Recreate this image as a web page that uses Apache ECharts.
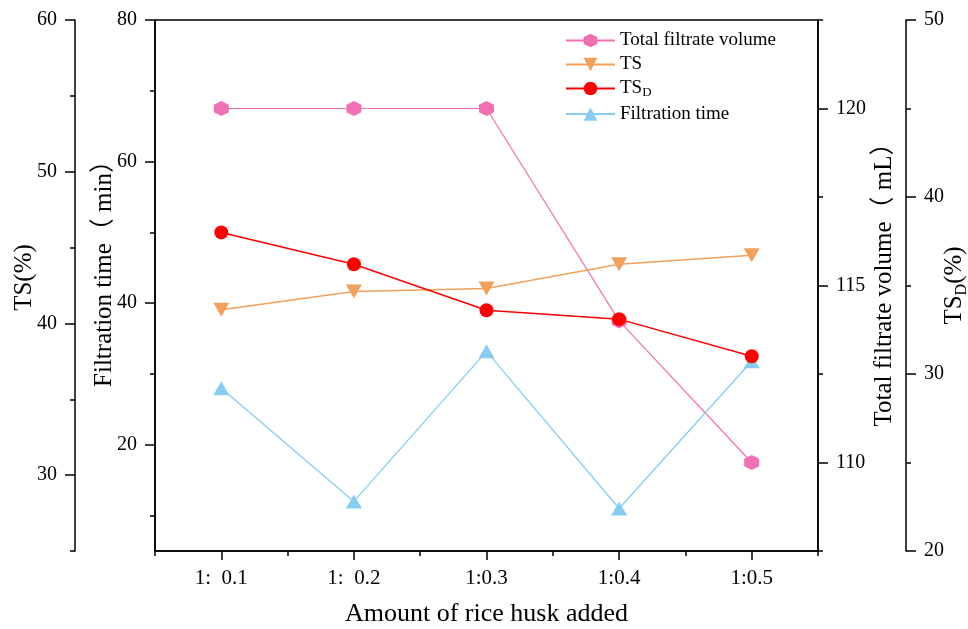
<!DOCTYPE html>
<html><head><meta charset="utf-8">
<script src="https://cdn.jsdelivr.net/npm/echarts@6/dist/echarts.min.js"></script>
<style>html,body{margin:0;padding:0;background:#fff}#c{width:968px;height:629px}</style>
</head><body><div id="c"></div>
<script>
const categories = ['1:  0.1', '1:  0.2', '1:0.3', '1:0.4', '1:0.5'];
const totalFiltrateVolume = [120.0, 120.0, 120.0, 114.0, 110.0];
const tsValues = [40.9, 42.1, 42.3, 43.9, 44.5];
const tsdValues = [38.0, 36.2, 33.6, 33.1, 31.0];
const filtrationTime = [28.0, 12.0, 33.2, 11.0, 31.8];

const tsTicks = [30, 40, 50, 60];
const tsMinorTicks = [25, 35, 45, 55];
const timeTicks = [20, 40, 60, 80];
const timeMinorTicks = [10, 30, 50, 70];
const volumeTicks = [110, 115, 120];
const volumeMinorTicks = [107.5, 112.5, 117.5, 122.5];
const tsdTicks = [20, 30, 40, 50];
const tsdMinorTicks = [25, 35, 45];

const FONT = '"Liberation Serif", "Noto Sans CJK SC", serif';
const chart = echarts.init(document.getElementById('c'), null, {renderer: 'canvas'});

function majorAxis(o) {
  return {
    type: 'value', position: o.position, offset: o.offset, min: o.min, max: o.max,
    name: o.name, nameLocation: 'middle', nameRotate: 90, nameGap: o.nameGap, nameMoveOverlap: false,
    nameTextStyle: Object.assign({fontFamily: FONT, fontSize: 25, color: '#000', padding: o.namePad || 0}, o.nameStyle || {}),
    axisLine: {show: true, lineStyle: {color: '#000', width: 1.5}},
    axisTick: {show: true, length: 10, inside: false, customValues: o.ticks, lineStyle: {color: '#000', width: 1.5}},
    axisLabel: {show: true, customValues: o.ticks, margin: 18, fontFamily: FONT, fontSize: 20, color: '#000'},
    splitLine: {show: false}
  };
}
function minorAxis(o) {
  return {
    type: 'value', position: o.position, offset: o.offset, min: o.min, max: o.max,
    axisLine: {show: false},
    axisTick: {show: true, length: 5, inside: false, customValues: o.minor, lineStyle: {color: '#000', width: 1.5}},
    axisLabel: {show: false},
    splitLine: {show: false}
  };
}

const axesDef = [
  {position: 'left', offset: 80, min: 25, max: 60, ticks: tsTicks, minor: tsMinorTicks, name: 'TS(%)', nameGap: 38, namePad: [0, 0, 0, 16]},
  {position: 'left', offset: 0, min: 5, max: 80, ticks: timeTicks, minor: timeMinorTicks, name: 'Filtration time\uFF08 min\uFF09', nameGap: 38, namePad: [0, 0, 0, 36]},
  {position: 'right', offset: 0, min: 107.5, max: 122.5, ticks: volumeTicks, minor: volumeMinorTicks, name: 'Total filtrate volume\uFF08 mL\uFF09', nameGap: 54, namePad: [0, 0, 0, 14]},
  {position: 'right', offset: 88, min: 20, max: 50, ticks: tsdTicks, minor: tsdMinorTicks, name: '{a|TS}{b|D}{a|(%)}', nameGap: 32,
   nameStyle: {rich: {a: {fontFamily: FONT, fontSize: 25, color: '#000', lineHeight: 32}, b: {fontFamily: FONT, fontSize: 16, color: '#000', verticalAlign: 'bottom', lineHeight: 32}}}}
];
const yAxes = [];
axesDef.forEach(d => { yAxes.push(majorAxis(d)); yAxes.push(minorAxis(d)); });

const hexagon = 'path://M0,-10 L8.66,-5 L8.66,5 L0,10 L-8.66,5 L-8.66,-5 Z';

chart.setOption({
  animation: false,
  backgroundColor: '#fff',
  grid: {left: 155, right: 150, top: 20, bottom: 78, containLabel: false, outerBoundsMode: 'none',
         show: true, borderColor: '#000', borderWidth: 1.5, backgroundColor: 'transparent'},
  legend: {
    orient: 'vertical', left: 560, top: 26, itemWidth: 49, itemHeight: 17, itemGap: 5,
    data: ['Total filtrate volume', 'TS', 'TS_D', 'Filtration time'],
    formatter: function (n) { return n === 'TS_D' ? '{a|TS}{b|D}' : '{a|' + n + '}'; },
    textStyle: {fontFamily: FONT, fontSize: 19, color: '#000',
      rich: {a: {fontFamily: FONT, fontSize: 19, color: '#000', lineHeight: 22}, b: {fontFamily: FONT, fontSize: 13, color: '#000', verticalAlign: 'bottom', lineHeight: 22}}}
  },
  xAxis: [
    {type: 'category', data: categories, boundaryGap: true, position: 'bottom',
     name: 'Amount of rice husk added', nameLocation: 'middle', nameGap: 50, nameMoveOverlap: false,
     nameTextStyle: {fontFamily: FONT, fontSize: 26, color: '#000'},
     axisLine: {show: true, lineStyle: {color: '#000', width: 1.5}},
     axisTick: {show: true, alignWithLabel: true, length: 9, lineStyle: {color: '#000', width: 1.5}},
     axisLabel: {fontFamily: FONT, fontSize: 21, color: '#000', margin: 17},
     splitLine: {show: false}},
    {type: 'category', data: categories, boundaryGap: true, position: 'bottom',
     axisLine: {show: false},
     axisTick: {show: true, length: 5, lineStyle: {color: '#000', width: 1.5}},
     axisLabel: {show: false}, splitLine: {show: false}}
  ],
  yAxis: yAxes,
  series: [
    {name: 'Total filtrate volume', type: 'line', xAxisIndex: 0, yAxisIndex: 4, data: totalFiltrateVolume, z: 2,
     symbol: hexagon, symbolSize: 15, color: '#f36fb3', itemStyle: {color: '#f36fb3'}, lineStyle: {color: '#f36fb3', width: 1.2}},
    {name: 'TS', type: 'line', xAxisIndex: 0, yAxisIndex: 0, data: tsValues, z: 4,
     symbol: 'triangle', symbolRotate: 180, symbolSize: [16, 14], color: '#f2a15c', itemStyle: {color: '#f2a15c'}, lineStyle: {color: '#f2a15c', width: 1.5}},
    {name: 'TS_D', type: 'line', xAxisIndex: 0, yAxisIndex: 6, data: tsdValues, z: 5,
     symbol: 'circle', symbolSize: 14, color: '#ff0000', itemStyle: {color: '#ff0000'}, lineStyle: {color: '#ff0000', width: 1.5}},
    {name: 'Filtration time', type: 'line', xAxisIndex: 0, yAxisIndex: 2, data: filtrationTime, z: 3,
     symbol: 'triangle', symbolSize: [16, 14], color: '#87cdf2', itemStyle: {color: '#87cdf2'}, lineStyle: {color: '#87cdf2', width: 1.3}}
  ]
});
</script></body></html>
